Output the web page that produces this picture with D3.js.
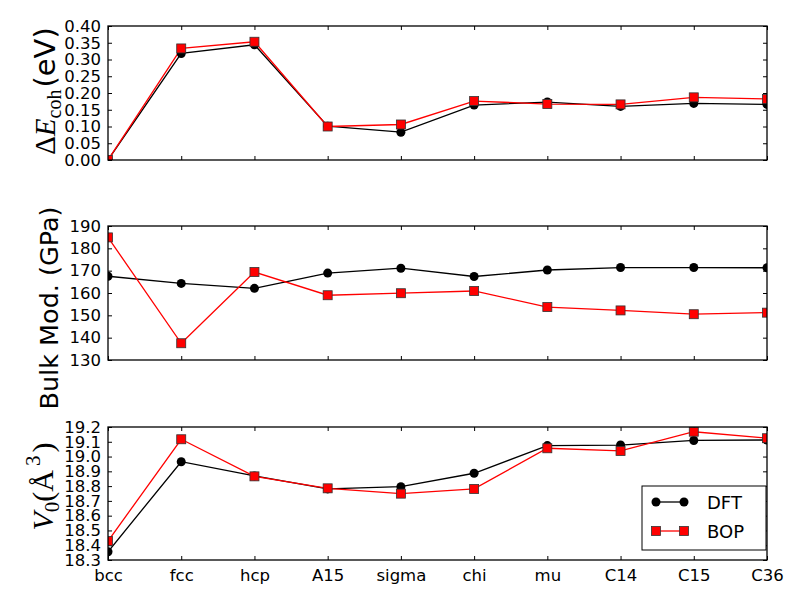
<!DOCTYPE html>
<html>
<head>
<meta charset="utf-8">
<script src="https://cdn.jsdelivr.net/npm/d3@7"></script>
<style>
  body { margin: 0; background: #fff; }
  text { font-family: "DejaVu Sans", sans-serif; }
  .math { font-family: "Liberation Serif", "DejaVu Serif", serif; }
</style>
</head>
<body>
<div id="chart"></div>
<script>
// Structures along the x axis
const categories = ['bcc', 'fcc', 'hcp', 'A15', 'sigma', 'chi', 'mu', 'C14', 'C15', 'C36'];

// Cohesive energy difference (eV)
const ecohDFT = [0.000, 0.318, 0.344, 0.101, 0.083, 0.164, 0.173, 0.160, 0.169, 0.166];
const ecohBOP = [0.000, 0.333, 0.353, 0.100, 0.106, 0.176, 0.167, 0.166, 0.187, 0.182];

// Bulk modulus (GPa)
const bulkDFT = [167.5, 164.3, 162.1, 168.9, 171.1, 167.4, 170.3, 171.4, 171.4, 171.3];
const bulkBOP = [184.9, 137.5, 169.4, 159.0, 159.9, 160.9, 153.7, 152.2, 150.5, 151.2];

// Equilibrium volume (A^3)
const volDFT = [18.356, 18.965, 18.869, 18.781, 18.796, 18.887, 19.074, 19.078, 19.109, 19.112];
const volBOP = [18.428, 19.117, 18.866, 18.785, 18.749, 18.781, 19.056, 19.038, 19.168, 19.124];

const ecohTicks = [0, 0.05, 0.10, 0.15, 0.20, 0.25, 0.30, 0.35, 0.40];
const bulkTicks = [130, 140, 150, 160, 170, 180, 190];
const volTicks = [18.3, 18.4, 18.5, 18.6, 18.7, 18.8, 18.9, 19.0, 19.1, 19.2];

const width = 800, height = 600;
const left = 108, right = 767;

const svg = d3.select('#chart').append('svg')
    .attr('width', width)
    .attr('height', height);

const x = d3.scalePoint().domain(categories).range([left, right]);

const panels = [
    { top: 26, bottom: 160, domain: [0, 0.4], ticks: ecohTicks, fmt: d3.format('.2f'), dft: ecohDFT, bop: ecohBOP, id: 'p0' },
    { top: 226, bottom: 360, domain: [130, 190], ticks: bulkTicks, fmt: d3.format('d'), dft: bulkDFT, bop: bulkBOP, id: 'p1' },
    { top: 427, bottom: 560, domain: [18.3, 19.2], ticks: volTicks, fmt: d3.format('.1f'), dft: volDFT, bop: volBOP, id: 'p2' }
];

panels.forEach((p, pi) => {
    const y = d3.scaleLinear().domain(p.domain).range([p.bottom, p.top]);
    const g = svg.append('g');

    // clip area
    svg.append('clipPath').attr('id', p.id)
        .append('rect')
        .attr('x', left).attr('y', p.top)
        .attr('width', right - left).attr('height', p.bottom - p.top);

    // left axis with inward ticks
    const yAxis = g.append('g')
        .attr('transform', `translate(${left},0)`)
        .call(d3.axisLeft(y).tickValues(p.ticks).tickFormat(p.fmt).tickSize(-4).tickPadding(7));
    yAxis.select('.domain').remove();
    yAxis.selectAll('text').style('font-size', '16.5px').style('fill', '#000');

    // right ticks
    const yAxisR = g.append('g')
        .attr('transform', `translate(${right},0)`)
        .call(d3.axisRight(y).tickValues(p.ticks).tickFormat('').tickSize(-4));
    yAxisR.select('.domain').remove();

    // bottom ticks (labels only on last panel)
    const xAxis = g.append('g')
        .attr('transform', `translate(0,${p.bottom})`)
        .call(d3.axisBottom(x).tickSize(-4).tickPadding(9).tickFormat(pi === 2 ? d => d : ''));
    xAxis.select('.domain').remove();
    xAxis.selectAll('text').style('font-size', '16.5px').style('fill', '#000');

    const xAxisT = g.append('g')
        .attr('transform', `translate(0,${p.top})`)
        .call(d3.axisTop(x).tickSize(-4).tickFormat(''));
    xAxisT.select('.domain').remove();

    const plot = g.append('g').attr('clip-path', `url(#${p.id})`);

    const line = d3.line()
        .x((d, i) => x(categories[i]))
        .y(d => y(d));

    plot.append('path').datum(p.dft)
        .attr('fill', 'none').attr('stroke', '#000').attr('stroke-width', 1.3)
        .attr('d', line);
    plot.append('path').datum(p.bop)
        .attr('fill', 'none').attr('stroke', '#ff0000').attr('stroke-width', 1.3)
        .attr('d', line);

    plot.selectAll('.dot')
        .data(p.dft).enter()
        .append('circle')
        .attr('cx', (d, i) => x(categories[i]))
        .attr('cy', d => y(d))
        .attr('r', 4.5)
        .attr('fill', '#000');

    plot.selectAll('.sq')
        .data(p.bop).enter()
        .append('rect')
        .attr('x', (d, i) => x(categories[i]) - 4.5)
        .attr('y', d => y(d) - 4.5)
        .attr('width', 9).attr('height', 9)
        .attr('fill', '#ff0000')
        .attr('stroke', '#333').attr('stroke-width', 0.8);

    // frame
    g.append('rect')
        .attr('x', left).attr('y', p.top)
        .attr('width', right - left).attr('height', p.bottom - p.top)
        .attr('fill', 'none').attr('stroke', '#000').attr('stroke-width', 1.3);
});

// y-axis labels
const lab0 = svg.append('text')
    .attr('transform', `translate(55,${(26 + 160) / 2 - 2}) rotate(-90)`)
    .attr('text-anchor', 'middle')
    .style('font-size', '29px');
lab0.append('tspan').attr('class', 'math').text('\u0394');
lab0.append('tspan').attr('class', 'math').style('font-style', 'italic').text('E');
lab0.append('tspan').attr('class', 'math').attr('dy', 6).style('font-size', '20px').text('coh');
lab0.append('tspan').attr('dy', -6).attr('dx', 2).text('(eV)');

svg.append('text')
    .attr('transform', `translate(58,${(226 + 360) / 2 + 15}) rotate(-90)`)
    .attr('text-anchor', 'middle')
    .style('font-size', '25.5px')
    .text('Bulk Mod. (GPa)');

const lab2 = svg.append('text')
    .attr('transform', `translate(53,${(427 + 560) / 2 - 7}) rotate(-90)`)
    .attr('text-anchor', 'middle')
    .style('font-size', '30px');
lab2.append('tspan').attr('class', 'math').style('font-style', 'italic').text('V');
lab2.append('tspan').attr('class', 'math').attr('dy', 6).style('font-size', '21px').text('0');
lab2.append('tspan').attr('class', 'math').attr('dy', -6).text('(\u00C5');
lab2.append('tspan').attr('class', 'math').attr('dy', -13).attr('dx', 4).style('font-size', '21px').text('3');
lab2.append('tspan').attr('class', 'math').attr('dy', 13).attr('dx', 3).text(')');

// legend
const legend = svg.append('g');
legend.append('rect')
    .attr('x', 642).attr('y', 486).attr('width', 124).attr('height', 64)
    .attr('fill', '#fff').attr('stroke', '#000').attr('stroke-width', 1);

const legendItems = [
    { name: 'DFT', color: '#000', shape: 'circle', y: 502 },
    { name: 'BOP', color: '#ff0000', shape: 'square', y: 531 }
];
legendItems.forEach(it => {
    legend.append('line')
        .attr('x1', 656).attr('x2', 684).attr('y1', it.y).attr('y2', it.y)
        .attr('stroke', it.color).attr('stroke-width', 1.3);
    [656, 684].forEach(cx => {
        if (it.shape === 'circle') {
            legend.append('circle').attr('cx', cx).attr('cy', it.y).attr('r', 4.5).attr('fill', '#000');
        } else {
            legend.append('rect').attr('x', cx - 4.5).attr('y', it.y - 4.5)
                .attr('width', 9).attr('height', 9)
                .attr('fill', '#ff0000').attr('stroke', '#333').attr('stroke-width', 0.8);
        }
    });
    legend.append('text')
        .attr('x', 707).attr('y', it.y + 6.5)
        .style('font-size', '18px')
        .text(it.name);
});
</script>
</body>
</html>
